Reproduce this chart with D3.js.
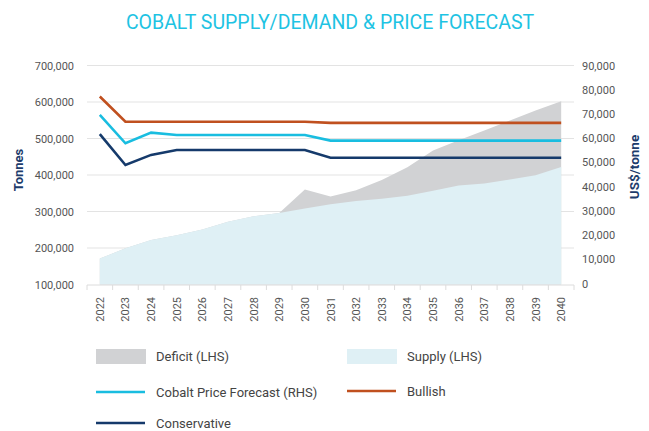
<!DOCTYPE html>
<html>
<head>
<meta charset="utf-8">
<script src="https://cdn.jsdelivr.net/npm/d3@7"></script>
<style>
  body { margin: 0; background: #fff; }
  svg { font-family: Roboto, "Noto Sans", sans-serif; }
</style>
</head>
<body>
<div class="chart"></div>
<script>
// data
let years = ["2022","2023","2024","2025","2026","2027","2028","2029","2030","2031",
             "2032","2033","2034","2035","2036","2037","2038","2039","2040"];

// tonnes (LHS)
let supply  = [171000,199000,222000,235000,251000,272000,287000,296000,308000,320000,
               329000,335000,343000,357000,371000,377000,388000,399000,422000];
let demand  = [0,0,0,0,0,0,0,296000,360000,341000,
               358000,386000,421000,467000,495000,522000,549000,577000,602000];

// US$/tonne (RHS)
let basePrice    = [69600,57900,62300,61300,61300,61300,61300,61300,61300,59000,
                    59000,59000,59000,59000,59000,59000,59000,59000,59000];
let bullish      = [77200,66800,66800,66800,66800,66800,66800,66800,66800,66300,
                    66300,66300,66300,66300,66300,66300,66300,66300,66300];
let conservative = [61700,48900,53100,55100,55100,55100,55100,55100,55100,51900,
                    51900,51900,51900,51900,51900,51900,51900,51900,51900];

let leftTicks = [100000,200000,300000,400000,500000,600000,700000];
let rightTicks = [0,10000,20000,30000,40000,50000,60000,70000,80000,90000];

let colors = {
  supply: "#dff0f5",
  deficit: "#d1d2d4",
  base: "#19bde0",
  bullish: "#c0501f",
  conservative: "#153a6b"
};

let width = 649, height = 431;
let plot = {left: 87, right: 574, top: 65.5, bottom: 284.5};

let svg = d3.select(".chart").append("svg")
  .attr("width", width)
  .attr("height", height);

svg.append("text")
  .attr("x", 330)
  .attr("y", 29)
  .attr("text-anchor", "middle")
  .attr("font-size", 19.5)
  .attr("fill", "#1ec3e3")
  .text("COBALT SUPPLY/DEMAND & PRICE FORECAST");

let x = d3.scaleBand()
  .domain(years)
  .range([plot.left, plot.right]);
let cx = d => x(d) + x.bandwidth() / 2;

let yL = d3.scaleLinear().domain([100000, 700000]).range([plot.bottom, plot.top]);
let yR = d3.scaleLinear().domain([0, 90000]).range([plot.bottom - 1, plot.top]);

// gridlines (left axis)
svg.append("g")
  .selectAll("line")
  .data(leftTicks.slice(1))
  .enter().append("line")
  .attr("x1", plot.left).attr("x2", plot.right)
  .attr("y1", d => yL(d)).attr("y2", d => yL(d))
  .attr("stroke", "#e3e3e3")
  .attr("stroke-width", 1);

// areas
let rows = years.map((yr, i) => ({
  year: yr,
  supply: supply[i],
  top: Math.max(supply[i], demand[i])
}));

svg.append("path")
  .datum(rows)
  .attr("fill", colors.deficit)
  .attr("d", d3.area()
    .x(d => cx(d.year))
    .y0(yL(100000))
    .y1(d => yL(d.top)));

svg.append("path")
  .datum(rows)
  .attr("fill", colors.supply)
  .attr("d", d3.area()
    .x(d => cx(d.year))
    .y0(yL(100000))
    .y1(d => yL(d.supply)));

// price lines
let priceLine = d3.line()
  .x((d, i) => cx(years[i]))
  .y(d => yR(d));

[[bullish, colors.bullish], [basePrice, colors.base], [conservative, colors.conservative]]
  .forEach(s => {
    svg.append("path")
      .datum(s[0])
      .attr("fill", "none")
      .attr("stroke", s[1])
      .attr("stroke-width", 2.6)
      .attr("stroke-linejoin", "miter")
      .attr("d", priceLine);
  });

// x axis
let xAxis = svg.append("g")
  .attr("transform", "translate(0," + (plot.bottom + 0.5) + ")");
xAxis.append("line")
  .attr("x1", plot.left).attr("x2", plot.right)
  .attr("stroke", "#dcdcdc");
xAxis.selectAll(".tk")
  .data(years.concat(["end"]))
  .enter().append("line")
  .attr("x1", (d, i) => plot.left + i * x.bandwidth())
  .attr("x2", (d, i) => plot.left + i * x.bandwidth())
  .attr("y1", 0).attr("y2", 5)
  .attr("stroke", "#dcdcdc");
xAxis.selectAll("text")
  .data(years)
  .enter().append("text")
  .attr("transform", d => "translate(" + (cx(d) + 4) + ",12) rotate(-90)")
  .attr("text-anchor", "end")
  .attr("font-size", 11)
  .attr("fill", "#555")
  .text(d => d);

// left tick labels
svg.append("g")
  .selectAll("text")
  .data(leftTicks)
  .enter().append("text")
  .attr("x", 74)
  .attr("y", d => yL(d) + 4)
  .attr("text-anchor", "end")
  .attr("font-size", 11)
  .attr("fill", "#555")
  .text(d => d3.format(",")(d));

// right tick labels
svg.append("g")
  .selectAll("text")
  .data(rightTicks)
  .enter().append("text")
  .attr("x", 582)
  .attr("y", d => yR(d) + 4)
  .attr("font-size", 11)
  .attr("fill", "#555")
  .text(d => d3.format(",")(d));

// axis titles
svg.append("text")
  .attr("transform", "translate(23,170) rotate(-90)")
  .attr("text-anchor", "middle")
  .attr("font-size", 13)
  .attr("font-weight", "bold")
  .attr("fill", "#1d3c6c")
  .text("Tonnes");

svg.append("text")
  .attr("transform", "translate(639,167) rotate(-90)")
  .attr("text-anchor", "middle")
  .attr("font-size", 13.5)
  .attr("font-weight", "bold")
  .attr("fill", "#1d3c6c")
  .text("US$/tonne");

// legend
let legendItems = [
  {label: "Deficit (LHS)", color: colors.deficit, type: "box", x: 96, y: 356.5},
  {label: "Supply (LHS)", color: colors.supply, type: "box", x: 347, y: 356.5},
  {label: "Cobalt Price Forecast (RHS)", color: colors.base, type: "line", x: 96, y: 392},
  {label: "Bullish", color: colors.bullish, type: "line", x: 347, y: 391},
  {label: "Conservative", color: colors.conservative, type: "line", x: 96, y: 423}
];

let lg = svg.append("g").selectAll("g")
  .data(legendItems)
  .enter().append("g")
  .attr("transform", d => "translate(" + d.x + "," + d.y + ")");

lg.filter(d => d.type === "box").append("rect")
  .attr("x", 0).attr("y", -7.5)
  .attr("width", 50).attr("height", 15)
  .attr("fill", d => d.color);

lg.filter(d => d.type === "line").append("line")
  .attr("x1", 0).attr("x2", 49)
  .attr("stroke", d => d.color)
  .attr("stroke-width", 2.6);

lg.append("text")
  .attr("x", 60)
  .attr("y", 4.5)
  .attr("font-size", 13)
  .attr("fill", "#444")
  .text(d => d.label);
</script>
</body>
</html>
